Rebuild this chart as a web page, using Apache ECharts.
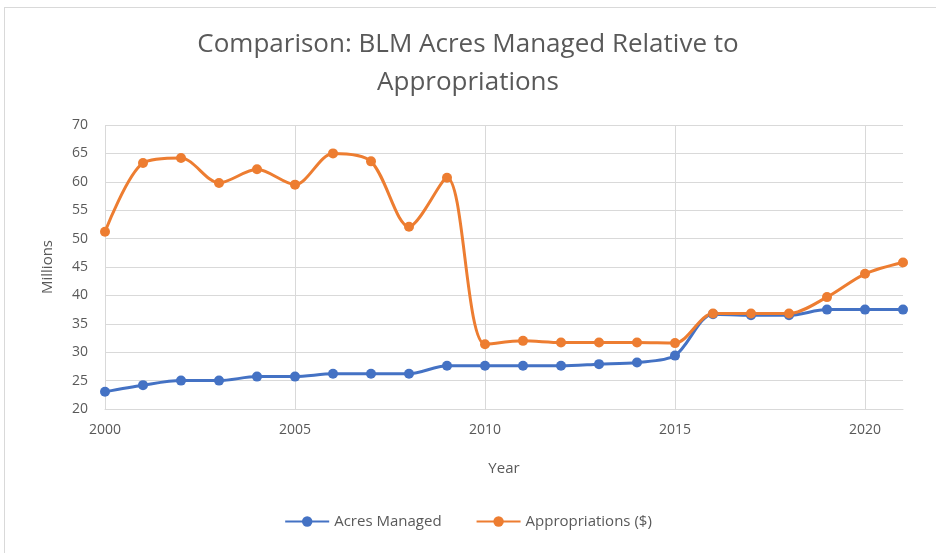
<!DOCTYPE html>
<html>
<head>
<meta charset="utf-8">
<script src="https://cdn.jsdelivr.net/npm/echarts@6/dist/echarts.min.js"></script>
<style>
  html, body { margin: 0; padding: 0; background: #fff; }
  #frame { position: absolute; left: 4px; top: 7px; width: 940px; height: 560px;
           border-top: 1px solid #d9d9d9; border-left: 1px solid #d9d9d9; }
  #chart { position: absolute; left: 0; top: 0; width: 936px; height: 553px; }
</style>
</head>
<body>
<div id="frame"></div>
<div id="chart"></div>
<script>
  const years = ['2000', '2001', '2002', '2003', '2004', '2005', '2006', '2007', '2008', '2009', '2010',
    '2011', '2012', '2013', '2014', '2015', '2016', '2017', '2018', '2019', '2020', '2021']
  // millions of acres
  const acresManaged = [23.05, 24.2, 25.0, 25.0, 25.7, 25.7, 26.2, 26.2, 26.2, 27.6, 27.6,
    27.6, 27.6, 27.9, 28.2, 29.4, 36.7, 36.5, 36.5, 37.5, 37.5, 37.5]
  // millions of dollars
  const appropriations = [51.2, 63.3, 64.2, 59.8, 62.2, 59.5, 65.0, 63.6, 52.1, 60.7, 31.4,
    32.0, 31.7, 31.7, 31.7, 31.6, 36.8, 36.8, 36.8, 39.7, 43.8, 45.8]
  const seriesNames = ['Acres Managed', 'Appropriations ($)']

  const textColor = '#595959'
  const gridColor = '#d9d9d9'
  const font = 'Open Sans'

  const chart = echarts.init(document.getElementById('chart'))
  chart.setOption({
    animation: false,
    title: {
      text: 'Comparison: BLM Acres Managed Relative to\nAppropriations',
      left: 'center',
      top: 21,
      textStyle: {
        fontFamily: font,
        fontSize: 26,
        fontWeight: 'normal',
        color: textColor,
        lineHeight: 38
      }
    },
    legend: {
      bottom: 19,
      left: 'center',
      itemGap: 34,
      itemWidth: 44,
      itemHeight: 13,
      textStyle: { fontFamily: font, fontSize: 15, color: textColor },
      data: seriesNames
    },
    grid: {
      left: 105,
      right: 33,
      top: 125,
      bottom: 144
    },
    xAxis: {
      type: 'category',
      data: years,
      boundaryGap: false,
      name: 'Year',
      nameLocation: 'middle',
      nameGap: 52,
      nameTextStyle: { fontFamily: font, fontSize: 15, color: textColor },
      axisLine: { lineStyle: { color: gridColor } },
      axisTick: { show: false },
      axisLabel: { interval: 4, margin: 14, fontFamily: font, fontSize: 14, color: textColor },
      splitLine: { show: true, interval: 4, lineStyle: { color: gridColor } }
    },
    yAxis: {
      type: 'value',
      min: 20,
      max: 70,
      interval: 5,
      name: 'Millions',
      nameLocation: 'middle',
      nameGap: 50,
      nameTextStyle: { fontFamily: font, fontSize: 15, color: textColor },
      axisLine: { show: false },
      axisTick: { show: false },
      axisLabel: { margin: 17, fontFamily: font, fontSize: 14, color: textColor },
      splitLine: { lineStyle: { color: gridColor } }
    },
    series: [
      {
        name: seriesNames[0],
        type: 'line',
        smooth: 0.3,
        data: acresManaged,
        symbol: 'circle',
        symbolSize: 10,
        color: '#4472c4',
        lineStyle: { width: 3 }
      },
      {
        name: seriesNames[1],
        type: 'line',
        smooth: 0.3,
        data: appropriations,
        symbol: 'circle',
        symbolSize: 10,
        color: '#ed7d31',
        lineStyle: { width: 3 }
      }
    ]
  })
</script>
</body>
</html>
